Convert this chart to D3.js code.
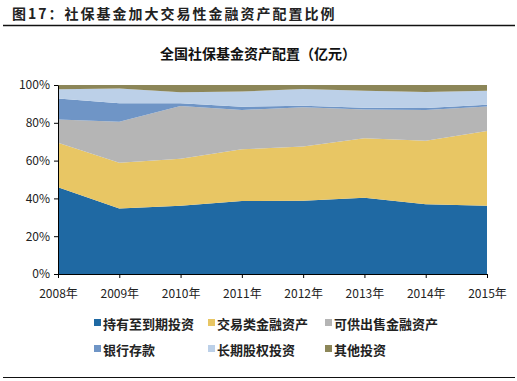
<!DOCTYPE html>
<head>
<meta charset="utf-8">
<script src="https://d3js.org/d3.v7.min.js"></script>
<style>
  body { margin: 0; background: #fff; }
  text { font-family: "Noto Sans CJK SC", "Noto Sans", sans-serif; }
</style>
</head>
<body>
<div id="container"></div>
<script>
// ---------- data ----------
const years = ["2008年", "2009年", "2010年", "2011年", "2012年", "2013年", "2014年", "2015年"];
const seriesNames = ["持有至到期投资", "交易类金融资产", "可供出售金融资产", "银行存款", "长期股权投资", "其他投资"];
const heldToMaturity = [45.9, 34.7, 36.1, 38.6, 38.8, 40.4, 36.9, 36.1];
const trading        = [23.6, 24.2, 24.9, 27.4, 28.6, 31.4, 33.6, 39.6];
const availForSale   = [12.3, 21.7, 27.9, 20.8, 20.8, 15.3, 16.3, 12.9];
const bankDeposit    = [11.0, 9.7, 1.4, 1.7, 0.8, 0.9, 1.0, 0.9];
const longEquity     = [4.9, 7.9, 5.8, 8.0, 8.9, 9.0, 8.5, 7.5];
const other          = [2.3, 1.8, 3.9, 3.5, 2.1, 3.0, 3.7, 3.0];
const yTicks = [0, 20, 40, 60, 80, 100];
const colors = ["#1f69a3", "#e8c664", "#b5b5b5", "#6f95c6", "#bcd0e8", "#8c8658"];

const seriesValues = [heldToMaturity, trading, availForSale, bankDeposit, longEquity, other];
const table = years.map((yr, i) => {
  const row = { year: yr };
  seriesNames.forEach((n, k) => row[n] = seriesValues[k][i]);
  return row;
});

// ---------- svg ----------
const W = 517, H = 381;
const svg = d3.select("#container").append("svg")
  .attr("width", W).attr("height", H);

// header
svg.append("text")
  .attr("x", 12).attr("y", 19)
  .attr("font-size", 14).attr("font-weight", "bold").attr("fill", "#222")
  .attr("letter-spacing", 2)
  .text("图17：社保基金加大交易性金融资产配置比例");
svg.append("line").attr("x1", 3).attr("x2", 515).attr("y1", 25.5).attr("y2", 25.5)
  .attr("stroke", "#111").attr("stroke-width", 1.5);
svg.append("line").attr("x1", 3).attr("x2", 515).attr("y1", 377.5).attr("y2", 377.5)
  .attr("stroke", "#111").attr("stroke-width", 1.2);

// chart title
svg.append("text")
  .attr("x", 258).attr("y", 59).attr("text-anchor", "middle")
  .attr("font-size", 14).attr("font-weight", "bold").attr("fill", "#111")
  .text("全国社保基金资产配置（亿元）");

// ---------- scales ----------
const plotL = 58, plotR = 487, plotT = 85, plotB = 274;
const x = d3.scalePoint().domain(years).range([plotL, plotR]);
const y = d3.scaleLinear().domain([0, 100]).range([plotB, plotT]);

const stack = d3.stack().keys(seriesNames);
const layers = stack(table);

const area = d3.area()
  .x(d => x(d.data.year))
  .y0(d => y(d[0]))
  .y1(d => y(d[1]));

svg.append("g").selectAll("path")
  .data(layers)
  .join("path")
  .attr("fill", (d, i) => colors[i])
  .attr("d", area);

// ---------- axes ----------
const yAxis = svg.append("g")
  .attr("transform", `translate(${plotL},0)`)
  .call(d3.axisLeft(y).tickValues(yTicks).tickFormat(d => d + "%").tickSize(4).tickSizeOuter(0));
const xAxis = svg.append("g")
  .attr("transform", `translate(0,${plotB})`)
  .call(d3.axisBottom(x).tickSize(4).tickSizeOuter(0).tickPadding(11));

[xAxis, yAxis].forEach(a => {
  a.select(".domain").attr("stroke", "#000");
  a.selectAll(".tick line").attr("stroke", "#000");
  a.selectAll("text").attr("font-size", 12).attr("fill", "#222")
    .style("font-family", "\"Noto Sans CJK SC\", sans-serif");
});
yAxis.selectAll("text").attr("dx", "-1");

// ---------- legend ----------
const legendX = [94, 208, 325];
const legendY = [324, 350];
const legend = svg.append("g").selectAll("g")
  .data(seriesNames)
  .join("g")
  .attr("transform", (d, i) => `translate(${legendX[i % 3]},${legendY[Math.floor(i / 3)]})`);
legend.append("rect")
  .attr("x", 0).attr("y", -5).attr("width", 7).attr("height", 7)
  .attr("fill", (d, i) => colors[i]);
legend.append("text")
  .attr("x", 9).attr("y", 0).attr("dy", "0.35em")
  .attr("font-size", 13).attr("font-weight", "bold").attr("fill", "#222")
  .text(d => d);
</script>
</body>
